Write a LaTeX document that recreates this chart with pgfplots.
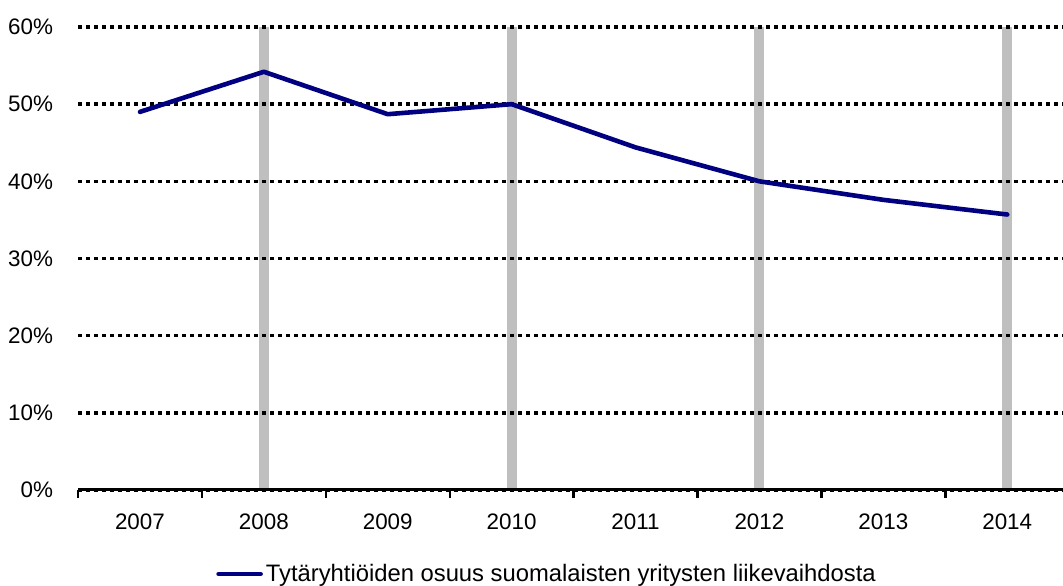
\documentclass[border=0pt]{standalone}
\usepackage{fontspec}
\setmainfont{Liberation Sans}
\usepackage{pgfplots}
\pgfplotsset{compat=1.18}

\definecolor{navyline}{HTML}{000080}
\definecolor{bargrey}{HTML}{BFBFBF}

% Share of turnover of Finnish companies generated by subsidiaries
\pgfplotstableread{
idx year share
0 2007 49.0
1 2008 54.2
2 2009 48.7
3 2010 50.0
4 2011 44.4
5 2012 40.0
6 2013 37.6
7 2014 35.7
}\sharetable

\begin{document}
\begin{tikzpicture}
\begin{axis}[
  name=ax,
  set layers,
  scale only axis,
  width=492.5pt, height=231.5pt,
  xmin=-0.5, xmax=7.45,
  ymin=0, ymax=60,
  separate axis lines,
  axis x line*=bottom,
  axis y line*=left,
  x axis line style={line width=1.5pt, -},
  y axis line style={draw=none},
  xtick={0,...,7},
  xticklabels={2007,2008,2009,2010,2011,2012,2013,2014},
  major x tick style={draw=none},
  minor xtick={-0.5,0.5,...,6.5},
  minor x tick style={black, line width=1.2pt},
  minor tick length=4pt,
  major tick length=0pt,
  tick align=outside,
  ytick={0,10,...,60},
  yticklabel={\pgfmathprintnumber{\tick}\%},
  ytick style={draw=none},
  ymajorgrids,
  grid style={black, line width=1.7pt, dash pattern=on 2pt off 2pt},
  /pgf/number format/assume math mode=true,
  tick label style={font=\fontsize{11.2pt}{13pt}\selectfont},
  yticklabel style={anchor=east, xshift=-9pt},
  xticklabel style={anchor=north, yshift=-8.5pt},
  legend style={
    at={(axis description cs:0.5,0)}, anchor=center,
    xshift=-11.5pt, yshift=-42pt,
    draw=none, fill=none, inner sep=0pt,
    font=\fontsize{11.9pt}{14pt}\selectfont,
    nodes={inner sep=1.5pt},
  },
  legend image code/.code={\draw[#1] (0pt,0pt) -- (21pt,0pt);},
]
% grey markers every second year, kept under the grid
\addplot[ycomb, on layer=axis background, line width=5pt, color=bargrey,
  no marks, forget plot] coordinates {(1,60) (3,60) (5,60) (7,60)};
\addplot[navyline, line width=2.3pt, line cap=round, line join=round, no marks]
  table[x=idx, y=share] {\sharetable};
\addlegendentry{Tytäryhtiöiden osuus suomalaisten yritysten liikevaihdosta}
\end{axis}
\pgfresetboundingbox
\path[use as bounding box]
  ([xshift=-39pt, yshift=-48pt]ax.south west) rectangle ([yshift=13.5pt]ax.north east);
\end{tikzpicture}
\end{document}
